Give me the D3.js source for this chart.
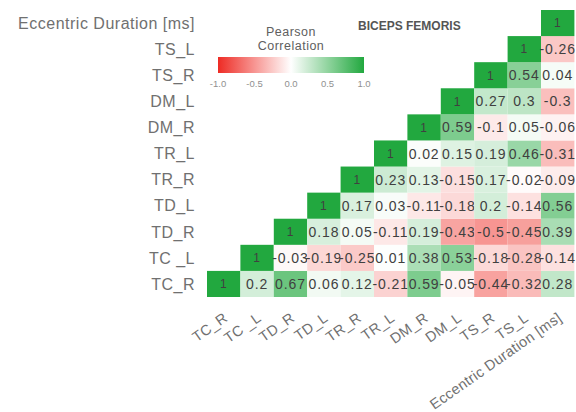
<!DOCTYPE html>
<html>
<head>
<meta charset="utf-8">
<script src="https://cdn.jsdelivr.net/npm/d3@7"></script>
<style>
  body { margin: 0; background: #fff; }
  svg { font-family: "Liberation Sans", Arial, sans-serif; }
</style>
</head>
<body>
<div class="chart"></div>
<script>
// muscles in column order (left to right); rows run the other way, bottom to top
var variables = ["TC_R", "TC _L", "TD_R", "TD_L", "TR_R", "TR_L",
  "DM_R", "DM_L", "TS_R", "TS_L", "Eccentric Duration [ms]"];

// correlations of each variable with itself and the variables to its right
var rTC_R = [1, 0.2, 0.67, 0.06, 0.12, -0.21, 0.59, -0.05, -0.44, -0.32, 0.28];
var rTC_L = [1, -0.03, -0.19, -0.25, 0.01, 0.38, 0.53, -0.18, -0.28, -0.14];
var rTD_R = [1, 0.18, 0.05, -0.11, 0.19, -0.43, -0.5, -0.45, 0.39];
var rTD_L = [1, 0.17, 0.03, -0.11, -0.18, 0.2, -0.14, 0.56];
var rTR_R = [1, 0.23, 0.13, -0.15, 0.17, -0.02, -0.09];
var rTR_L = [1, 0.02, 0.15, 0.19, 0.46, -0.31];
var rDM_R = [1, 0.59, -0.1, 0.05, -0.06];
var rDM_L = [1, 0.27, 0.3, -0.3];
var rTS_R = [1, 0.54, 0.04];
var rTS_L = [1, -0.26];
var rED = [1];
var rows = [rTC_R, rTC_L, rTD_R, rTD_L, rTR_R, rTR_L, rDM_R, rDM_L, rTS_R, rTS_L, rED];

var legendTicks = [-1, -0.5, 0, 0.5, 1];
var title = "BICEPS FEMORIS";

var width = 576, height = 412;

var svg = d3.select(".chart").append("svg")
  .attr("width", width)
  .attr("height", height);

var x = d3.scaleBand().domain(variables).range([207, 207 + 11 * 33.4]);
var y = d3.scaleBand().domain(variables.slice().reverse()).range([10, 297]);

var color = d3.scaleLinear()
  .domain([-1, 0, 1])
  .range(["#ee2b24", "#ffffff", "#22a83f"]);

var cells = [];
rows.forEach(function(vals, i) {
  vals.forEach(function(v, k) {
    cells.push({ row: variables[i], col: variables[i + k], value: v });
  });
});

var cell = svg.append("g").selectAll("g")
  .data(cells)
  .enter().append("g");

cell.append("rect")
  .attr("x", function(d) { return x(d.col); })
  .attr("y", function(d) { return y(d.row); })
  .attr("width", x.bandwidth())
  .attr("height", y.bandwidth())
  .attr("fill", function(d) { return color(d.value); });

cell.append("text")
  .attr("x", function(d) { return x(d.col) + x.bandwidth() / 2; })
  .attr("y", function(d) { return y(d.row) + y.bandwidth() / 2; })
  .attr("dy", "0.36em")
  .attr("text-anchor", "middle")
  .attr("font-size", function(d) { return d.value === 1 ? 12 : 14; })
  .attr("letter-spacing", 0.9)
  .attr("fill", "#404040")
  .text(function(d) { return String(d.value); });

// row labels
svg.append("g").selectAll("text")
  .data(variables)
  .enter().append("text")
  .attr("x", 195)
  .attr("y", function(d) { return y(d) + y.bandwidth() / 2; })
  .attr("dy", "0.36em")
  .attr("text-anchor", "end")
  .attr("font-size", 16)
  .attr("letter-spacing", 0.5)
  .attr("fill", "#707070")
  .text(function(d) { return d; });

// column labels, slanted
svg.append("g").selectAll("text")
  .data(variables)
  .enter().append("text")
  .attr("text-anchor", "end")
  .attr("font-size", 14.5)
  .attr("letter-spacing", 0.3)
  .attr("fill", "#707070")
  .attr("transform", function(d) {
    return "translate(" + (x(d) + x.bandwidth() / 2 + 5) + ",320) rotate(-35)";
  })
  .text(function(d) { return d; });

// title
svg.append("text")
  .attr("x", 358)
  .attr("y", 30)
  .attr("font-size", 12)
  .attr("font-weight", "bold")
  .attr("fill", "#555")
  .text(title);

// legend
var lx = d3.scaleLinear().domain([-1, 1]).range([218, 364]);

var grad = svg.append("defs").append("linearGradient")
  .attr("id", "grad");
grad.selectAll("stop")
  .data(d3.range(-1, 1.01, 0.25))
  .enter().append("stop")
  .attr("offset", function(d) { return (d + 1) / 2; })
  .attr("stop-color", function(d) { return color(d); });

svg.append("rect")
  .attr("x", lx(-1))
  .attr("y", 57)
  .attr("width", lx(1) - lx(-1))
  .attr("height", 16)
  .attr("fill", "url(#grad)");

svg.append("text")
  .attr("x", lx(0))
  .attr("y", 35.5)
  .attr("text-anchor", "middle")
  .attr("font-size", 12.5)
  .attr("letter-spacing", 0.5)
  .attr("fill", "#606060")
  .text("Pearson");

svg.append("text")
  .attr("x", lx(0))
  .attr("y", 50)
  .attr("text-anchor", "middle")
  .attr("font-size", 12.5)
  .attr("letter-spacing", 0.5)
  .attr("fill", "#606060")
  .text("Correlation");

svg.append("g").selectAll("text")
  .data(legendTicks)
  .enter().append("text")
  .attr("x", function(d) { return lx(d); })
  .attr("y", 87)
  .attr("text-anchor", "middle")
  .attr("font-size", 9.5)
  .attr("fill", "#909090")
  .text(function(d) { return d.toFixed(1); });
</script>
</body>
</html>
